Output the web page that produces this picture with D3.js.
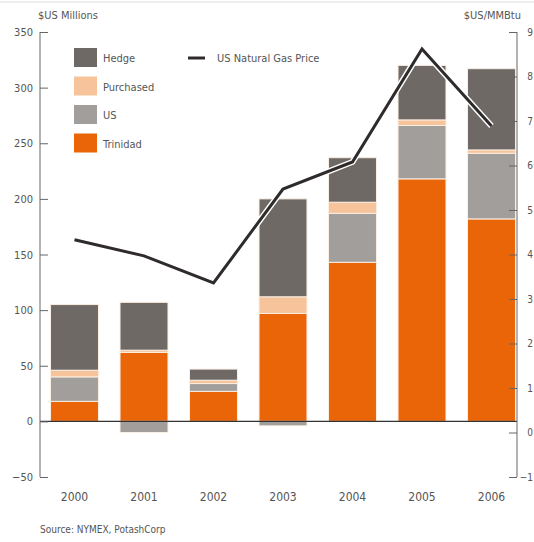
<!DOCTYPE html>
<html>
<head>
<meta charset="utf-8">
<script src="https://cdn.jsdelivr.net/npm/d3@7"></script>
<style>
  body { margin: 0; background: #fff; }
  svg { display: block; }
  text { font-family: "Liberation Sans Narrow", "DejaVu Sans Condensed", "Roboto", sans-serif; fill: #555; }
</style>
</head>
<body>
<div class="chart"></div>
<script>
var svgWidth = 534;
var svgHeight = 542;

// data
var years = ["2000", "2001", "2002", "2003", "2004", "2005", "2006"];
var trinidad = [18, 62, 27, 97, 143, 218, 182];
var us = [22, -10, 7, -4, 44, 48, 59];
var purchased = [6, 2, 3, 15, 10, 5, 3];
var hedge = [59, 43, 10, 88, 40, 49, 73];
var gasPrice = [4.33, 3.97, 3.36, 5.47, 6.08, 8.62, 6.89];

var leftTicks = [-50, 0, 50, 100, 150, 200, 250, 300, 350];
var rightTicks = [-1, 0, 1, 2, 3, 4, 5, 6, 7, 8, 9];

var keys = ["Trinidad", "US", "Purchased", "Hedge"];
var colors = {
  Hedge: "#6e6965",
  Purchased: "#f6c39a",
  US: "#a19e9b",
  Trinidad: "#ea6507"
};

var rows = years.map(function (y, i) {
  return { year: y, Trinidad: trinidad[i], US: us[i], Purchased: purchased[i], Hedge: hedge[i] };
});

var svg = d3.select(".chart")
  .append("svg")
  .attr("width", svgWidth)
  .attr("height", svgHeight);

// thin frame line at the top
svg.append("line")
  .attr("x1", 0).attr("x2", svgWidth)
  .attr("y1", 2).attr("y2", 2)
  .attr("stroke", "#ddd");

var axisLeftX = 40;
var axisRightX = 517;

var xScale = d3.scalePoint()
  .domain(years)
  .range([74.5, 491.5]);
var barWidth = xScale.step() * 0.69;

var yScale = d3.scaleLinear()
  .domain([-50, 350])
  .range([477, 32]);

var yRight = d3.scaleLinear()
  .domain([-1, 9])
  .range([477, 32]);

// stacked bars
var series = d3.stack()
  .keys(keys)
  .offset(d3.stackOffsetDiverging)(rows);

svg.append("g")
  .selectAll("g")
  .data(series)
  .enter()
  .append("g")
  .attr("fill", d => colors[d.key])
  .selectAll("rect")
  .data(d => d)
  .enter()
  .append("rect")
  .attr("x", d => xScale(d.data.year) - barWidth / 2)
  .attr("width", barWidth)
  .attr("y", d => yScale(Math.max(d[0], d[1])))
  .attr("height", d => Math.abs(yScale(d[0]) - yScale(d[1])))
  .attr("stroke", "#fbeee2")
  .attr("stroke-width", 1);

// zero line
svg.append("line")
  .attr("x1", axisLeftX).attr("x2", axisRightX)
  .attr("y1", yScale(0)).attr("y2", yScale(0))
  .attr("stroke", "#333")
  .attr("stroke-width", 1.2);

// left axis, ticks pointing inward
var leftAxis = d3.axisRight(yScale)
  .tickValues(leftTicks)
  .tickSize(8)
  .tickFormat(d3.format("d"));

var gLeft = svg.append("g")
  .attr("transform", `translate(${axisLeftX}, 0)`)
  .call(leftAxis);
gLeft.select(".domain").attr("stroke", "#666").attr("d", `M0,${yScale(350)}V${yScale(-50)}`);
gLeft.selectAll(".tick line").attr("stroke", "#666");
gLeft.selectAll(".tick text")
  .attr("x", -7)
  .attr("text-anchor", "end")
  .attr("font-size", "11px")
  .attr("fill", "#555");

// right axis, ticks pointing inward, labels squeezed against the edge
var rightAxis = d3.axisLeft(yRight)
  .tickValues(rightTicks)
  .tickSize(8)
  .tickFormat(d3.format("d"));

var gRight = svg.append("g")
  .attr("transform", `translate(${axisRightX}, 0)`)
  .call(rightAxis);
gRight.select(".domain").attr("stroke", "#666").attr("d", `M0,${yRight(9)}V${yRight(-1)}`);
gRight.selectAll(".tick line").attr("stroke", "#666");
gRight.selectAll(".tick text")
  .attr("x", svgWidth - axisRightX - 1)
  .attr("text-anchor", "end")
  .attr("font-size", "10px")
  .attr("fill", "#555");

// gas price line with white casing
var line = d3.line()
  .x((d, i) => xScale(years[i]))
  .y(d => yRight(d));

svg.append("path")
  .datum(gasPrice)
  .attr("d", line)
  .attr("fill", "none")
  .attr("stroke", "#fff")
  .attr("stroke-width", 6);

svg.append("path")
  .datum(gasPrice)
  .attr("d", line)
  .attr("fill", "none")
  .attr("stroke", "#2e2b2a")
  .attr("stroke-width", 3);

// x labels
svg.append("g")
  .selectAll("text")
  .data(years)
  .enter()
  .append("text")
  .attr("x", d => xScale(d))
  .attr("y", 501)
  .attr("text-anchor", "middle")
  .attr("font-size", "12px")
  .text(d => d);

// axis titles
svg.append("text")
  .attr("x", 38)
  .attr("y", 19)
  .attr("font-size", "11px")
  .text("$US Millions");

svg.append("text")
  .attr("x", 521)
  .attr("y", 19)
  .attr("text-anchor", "end")
  .attr("font-size", "11px")
  .text("$US/MMBtu");

// legend
var legendKeys = ["Hedge", "Purchased", "US", "Trinidad"];
var legend = svg.append("g")
  .selectAll("g")
  .data(legendKeys)
  .enter()
  .append("g")
  .attr("transform", (d, i) => `translate(74, ${48 + i * 28.5})`);

legend.append("rect")
  .attr("width", 23)
  .attr("height", 19)
  .attr("fill", d => colors[d]);

legend.append("text")
  .attr("x", 29)
  .attr("y", 14)
  .attr("font-size", "11px")
  .text(d => d);

svg.append("line")
  .attr("x1", 188).attr("x2", 205)
  .attr("y1", 58).attr("y2", 58)
  .attr("stroke", "#2e2b2a")
  .attr("stroke-width", 3);

svg.append("text")
  .attr("x", 217)
  .attr("y", 62)
  .attr("font-size", "11px")
  .text("US Natural Gas Price");

// source
svg.append("text")
  .attr("x", 40)
  .attr("y", 533)
  .attr("font-size", "10px")
  .text("Source: NYMEX, PotashCorp");
</script>
</body>
</html>
